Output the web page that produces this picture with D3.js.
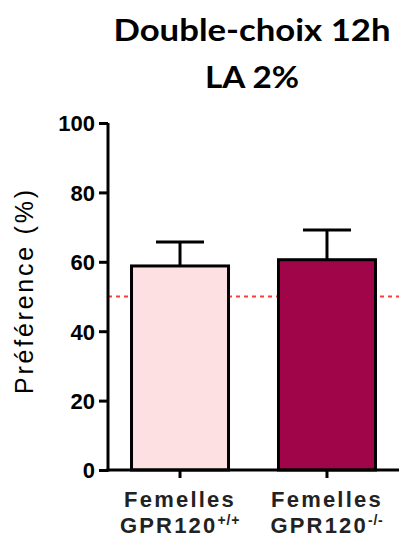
<!DOCTYPE html>
<html><head><meta charset="utf-8">
<script src="https://cdn.jsdelivr.net/npm/d3@7"></script>
<style>body{margin:0;background:#fff}svg{display:block}</style>
</head><body>
<svg id="c" width="400" height="537"></svg>
<script>
const titleLines = ["Double-choix 12h", "LA 2%"];
const categories = ["Femelles|GPR120|+/+", "Femelles|GPR120|-/-"];
const values = [58.8, 60.6];
const errors = [6.9, 8.6];
const colors = ["#fde0e1", "#a0054a"];
const yTicks = [0, 20, 40, 60, 80, 100];
const refLine = 50;
const yLabel = "Préférence (%)";

const svg = d3.select("#c");
const x0 = 108, x1 = 399, yTop = 123, yBot = 470;
const y = d3.scaleLinear().domain([0, 100]).range([yBot, yTop]);
const x = d3.scaleBand().domain(categories).range([x0, x1]).paddingInner(0.34).paddingOuter(0.16);

// title
const titleW = [277, 94];
svg.selectAll("text.title").data(titleLines).join("text")
  .attr("class", "title")
  .attr("x", 252).attr("y", (d, i) => 41 + i * 47)
  .attr("text-anchor", "middle")
  .attr("font-family", "Lato, 'Open Sans', sans-serif").attr("font-weight", 700)
  .attr("font-size", 31).attr("fill", "#000")
  .attr("textLength", (d, i) => titleW[i]).attr("lengthAdjust", "spacingAndGlyphs")
  .text(d => d);

// ref line
svg.append("line").attr("x1", x0).attr("x2", x1).attr("y1", y(refLine)).attr("y2", y(refLine))
  .attr("stroke", "#ff3c3c").attr("stroke-width", 2).attr("stroke-dasharray", "4,4");

// bars
svg.selectAll("rect.bar").data(values).join("rect").attr("class", "bar")
  .attr("x", (d, i) => x(categories[i])).attr("width", x.bandwidth())
  .attr("y", d => y(d)).attr("height", d => yBot - y(d))
  .attr("fill", (d, i) => colors[i]).attr("stroke", "#000").attr("stroke-width", 3);

// error bars
const eg = svg.selectAll("g.err").data(values).join("g").attr("class", "err");
eg.append("line")
  .attr("x1", (d, i) => x(categories[i]) + x.bandwidth() / 2)
  .attr("x2", (d, i) => x(categories[i]) + x.bandwidth() / 2)
  .attr("y1", d => y(d)).attr("y2", (d, i) => y(d + errors[i]))
  .attr("stroke", "#000").attr("stroke-width", 3);
eg.append("line")
  .attr("x1", (d, i) => x(categories[i]) + x.bandwidth() / 2 - 24)
  .attr("x2", (d, i) => x(categories[i]) + x.bandwidth() / 2 + 24)
  .attr("y1", (d, i) => y(d + errors[i])).attr("y2", (d, i) => y(d + errors[i]))
  .attr("stroke", "#000").attr("stroke-width", 3);

// y axis
const ya = svg.append("g").attr("transform", `translate(${x0},0)`)
  .call(d3.axisLeft(y).tickValues(yTicks).tickSize(9).tickPadding(4));
ya.select(".domain").attr("stroke", "#000").attr("stroke-width", 3).attr("d", `M0,${yTop}V${yBot + 1.5}`);
ya.selectAll(".tick line").attr("stroke", "#000").attr("stroke-width", 3);
ya.selectAll(".tick text").attr("font-family", "'Liberation Sans', Arial, sans-serif")
  .attr("font-weight", 700).attr("font-size", 22).attr("fill", "#000").attr("dy", "0.36em");

// x axis
const xa = svg.append("g").attr("transform", `translate(0,${yBot})`)
  .call(d3.axisBottom(x).tickSize(8).tickFormat(""));
xa.select(".domain").attr("stroke", "#000").attr("stroke-width", 3).attr("d", `M${x0 - 1.5},0H${x1}`);
xa.selectAll(".tick line").attr("stroke", "#000").attr("stroke-width", 3);
xa.selectAll(".tick").each(function (d) {
  const [l1, l2, sup] = d.split("|");
  const g = d3.select(this);
  g.append("text").attr("y", 37).attr("text-anchor", "middle")
    .attr("font-family", "'Liberation Sans', Arial, sans-serif").attr("font-weight", 700)
    .attr("font-size", 22).attr("letter-spacing", 2.2).attr("fill", "#222").text(l1);
  const t = g.append("text").attr("y", 63).attr("text-anchor", "middle")
    .attr("font-family", "'Liberation Sans', Arial, sans-serif").attr("font-weight", 700)
    .attr("font-size", 22).attr("letter-spacing", 2.2).attr("fill", "#222");
  t.append("tspan").text(l2);
  t.append("tspan").attr("font-size", 14).attr("dy", -8).attr("letter-spacing", 0.8).text(sup);
});

// y label
svg.append("text").attr("transform", "translate(33,292) rotate(-90)")
  .attr("text-anchor", "middle")
  .attr("font-family", "'Liberation Sans', Arial, sans-serif")
  .attr("font-size", 25).attr("textLength", 204).attr("lengthAdjust", "spacing")
  .attr("fill", "#000").text(yLabel);
</script>
</body></html>
